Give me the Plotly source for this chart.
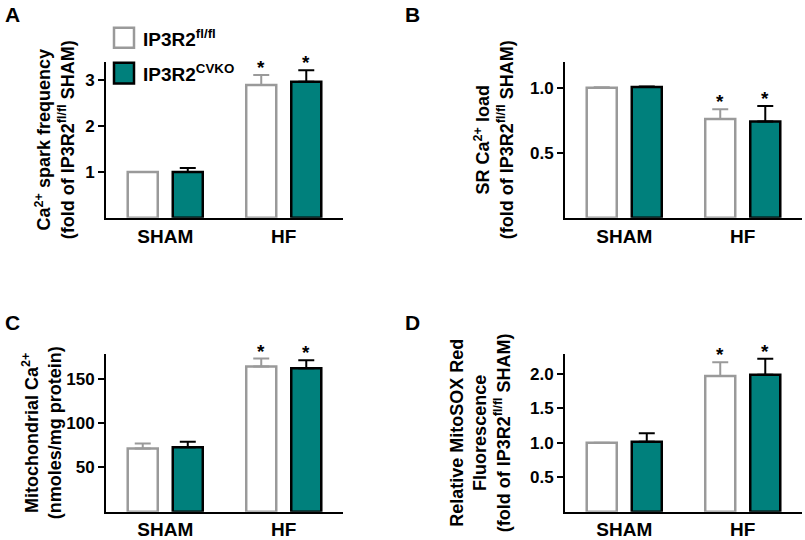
import plotly.graph_objects as go

# ---------------- data ----------------
categories = ["SHAM", "HF"]
group_names = ["IP3R2<sup>fl/fl</sup>", "IP3R2<sup>CVKO</sup>"]

# Panel A: Ca2+ spark frequency (fold of IP3R2fl/fl SHAM)
a_flfl = [1.00, 2.90]
a_flfl_err = [0.00, 0.22]
a_cvko = [1.00, 2.97]
a_cvko_err = [0.09, 0.25]

# Panel B: SR Ca2+ load (fold of IP3R2fl/fl SHAM)
b_flfl = [1.000, 0.76]
b_flfl_err = [0.003, 0.075]
b_cvko = [1.005, 0.74]
b_cvko_err = [0.005, 0.12]

# Panel C: Mitochondrial Ca2+ (nmoles/mg protein)
c_flfl = [71.3, 163.8]
c_flfl_err = [5.7, 9.0]
c_cvko = [72.8, 162.0]
c_cvko_err = [6.0, 9.0]

# Panel D: Relative MitoSOX Red fluorescence
d_flfl = [1.00, 1.97]
d_flfl_err = [0.00, 0.20]
d_cvko = [1.015, 1.99]
d_cvko_err = [0.125, 0.23]

significant = [False, True]  # asterisk above HF bars

a_ticks = [1, 2, 3]
a_ticklabels = ["1", "2", "3"]
b_ticks = [0.5, 1.0]
b_ticklabels = ["0.5", "1.0"]
c_ticks = [50, 100, 150]
c_ticklabels = ["50", "100", "150"]
d_ticks = [0.5, 1.0, 1.5, 2.0]
d_ticklabels = ["0.5", "1.0", "1.5", "2.0"]

# ---------------- styling ----------------
W, H = 805, 540
TEAL = "#00807C"
GRAY = "#9A9A9A"
FONT = "Arial, Liberation Sans, Helvetica, sans-serif"
BAR_OFFSET = 0.19  # half distance between bars within group (category units)

def px_x(p):
    return p / W

def px_y(p):
    return 1 - p / H

panels = [
    dict(name="A", xa="x", ya="y", xdom=[106, 343], ydom=[219, 62], rng=[0, 3.41],
         flfl=a_flfl, flfl_err=a_flfl_err, cvko=a_cvko, cvko_err=a_cvko_err,
         tv=a_ticks, tt=a_ticklabels,
         title="Ca<sup>2+</sup> spark frequency<br>(fold of IP3R2<sup>fl/fl</sup> SHAM)",
         standoff=6, label_xy=(3, 1)),
    dict(name="B", xa="x2", ya="y2", xdom=[565, 802], ydom=[219, 62], rng=[0, 1.2],
         flfl=b_flfl, flfl_err=b_flfl_err, cvko=b_cvko, cvko_err=b_cvko_err,
         tv=b_ticks, tt=b_ticklabels,
         title="SR Ca<sup>2+</sup> load<br>(fold of IP3R2<sup>fl/fl</sup> SHAM)",
         standoff=12, label_xy=(403, 1)),
    dict(name="C", xa="x3", ya="y3", xdom=[106, 343], ydom=[514.5, 356], rng=[0, 178],
         flfl=c_flfl, flfl_err=c_flfl_err, cvko=c_cvko, cvko_err=c_cvko_err,
         tv=c_ticks, tt=c_ticklabels,
         title="Mitochondrial Ca<sup>2+</sup><br>(nmoles/mg protein)",
         standoff=0, label_xy=(3, 311)),
    dict(name="D", xa="x4", ya="y4", xdom=[565, 802], ydom=[514.5, 356], rng=[0, 2.29],
         flfl=d_flfl, flfl_err=d_flfl_err, cvko=d_cvko, cvko_err=d_cvko_err,
         tv=d_ticks, tt=d_ticklabels,
         title="Relative MitoSOX Red<br>Fluorescence<br>(fold of IP3R2<sup>fl/fl</sup> SHAM)",
         standoff=15, label_xy=(403, 311)),
]

fig = go.Figure()
annotations = []
layout_axes = {}

for i, p in enumerate(panels):
    # fl/fl bars
    fig.add_trace(go.Bar(
        x=categories, y=p["flfl"], name=group_names[0], showlegend=False,
        xaxis=p["xa"], yaxis=p["ya"], offsetgroup="flfl",
        marker=dict(color="white", line=dict(color=GRAY, width=2.5)),
        error_y=dict(type="data", array=p["flfl_err"], arrayminus=[0] * len(categories),
                     symmetric=False, color=GRAY, thickness=2, width=8),
    ))
    # CVKO bars
    fig.add_trace(go.Bar(
        x=categories, y=p["cvko"], name=group_names[1], showlegend=False,
        xaxis=p["xa"], yaxis=p["ya"], offsetgroup="cvko",
        marker=dict(color=TEAL, line=dict(color="black", width=2.5)),
        error_y=dict(type="data", array=p["cvko_err"], arrayminus=[0] * len(categories),
                     symmetric=False, color="black", thickness=2, width=8),
    ))
    # asterisks
    for j, sig in enumerate(significant):
        if not sig:
            continue
        for off, vals, errs in ((-BAR_OFFSET, p["flfl"], p["flfl_err"]),
                                (BAR_OFFSET, p["cvko"], p["cvko_err"])):
            annotations.append(dict(
                x=j + off, y=vals[j] + errs[j], xref=p["xa"], yref=p["ya"],
                text="*", showarrow=False, yanchor="bottom", yshift=-5,
                font=dict(size=19, color="black", family=FONT, weight="bold"),
            ))
    # panel label
    annotations.append(dict(
        x=px_x(p["label_xy"][0]), y=px_y(p["label_xy"][1]), xref="paper", yref="paper",
        text=p["name"], showarrow=False, xanchor="left", yanchor="top",
        font=dict(size=21, color="black", family=FONT, weight="bold"),
    ))

    xkey = "xaxis" if i == 0 else f"xaxis{i + 1}"
    ykey = "yaxis" if i == 0 else f"yaxis{i + 1}"
    layout_axes[xkey] = dict(
        domain=[px_x(p["xdom"][0]), px_x(p["xdom"][1])], anchor=p["ya"],
        type="category", range=[-0.5, 1.5], showline=True, linecolor="black", linewidth=2,
        ticks="", showgrid=False, zeroline=False,
        tickfont=dict(size=19, color="black", family=FONT, weight="bold"), fixedrange=True,
    )
    layout_axes[ykey] = dict(
        domain=[px_y(p["ydom"][0]), px_y(p["ydom"][1])], anchor=p["xa"],
        range=p["rng"], showline=True, linecolor="black", linewidth=2,
        ticks="outside", ticklen=6, tickwidth=2, tickcolor="black",
        tickvals=p["tv"], ticktext=p["tt"], showgrid=False, zeroline=False,
        tickfont=dict(size=17, color="black", family=FONT, weight="bold"),
        title=dict(text=p["title"], standoff=p["standoff"],
                   font=dict(size=18, color="black", family=FONT, weight="bold")),
    )

# manual legend (top of panel A)
legend_items = [
    dict(y0=28, y1=48, fill="white", line=GRAY, text=group_names[0], ty=38),
    dict(y0=63, y1=84, fill=TEAL, line="black", text=group_names[1], ty=73),
]
shapes = []
for it in legend_items:
    shapes.append(dict(
        type="rect", xref="paper", yref="paper",
        x0=px_x(114), x1=px_x(134), y0=px_y(it["y1"]), y1=px_y(it["y0"]),
        fillcolor=it["fill"], line=dict(color=it["line"], width=2.5),
    ))
    annotations.append(dict(
        x=px_x(141), y=px_y(it["ty"]), xref="paper", yref="paper",
        text=it["text"], showarrow=False, xanchor="left", yanchor="middle",
        font=dict(size=19, color="black", family=FONT, weight="bold"),
    ))

fig.update_layout(
    width=W, height=H,
    margin=dict(l=0, r=0, t=0, b=0),
    paper_bgcolor="white", plot_bgcolor="white",
    barmode="group", bargap=0.24, bargroupgap=0.333,
    showlegend=False,
    font=dict(family=FONT, color="black", weight="bold"),
    annotations=annotations, shapes=shapes,
    **layout_axes,
)

# remove the browser's default 8px page margin so the figure fills the window
fig.write_html("out.html", config={"displayModeBar": False},
               post_script="document.body.style.margin='0px';")
